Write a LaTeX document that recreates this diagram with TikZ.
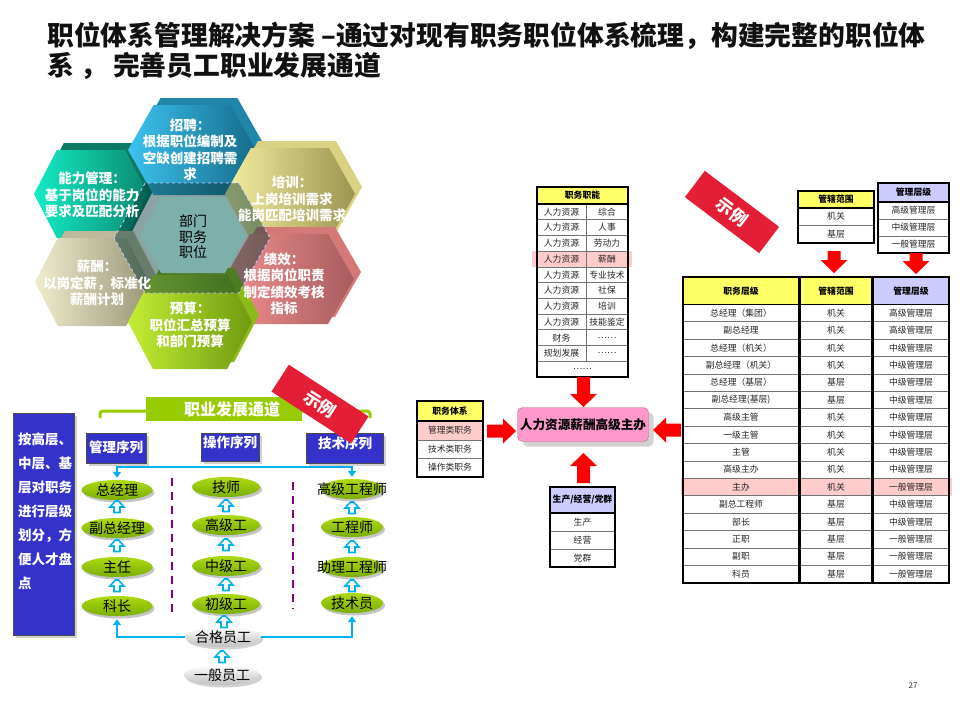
\documentclass[tikz,border=0pt]{standalone}
\usepackage{fontspec}
\setmainfont{Noto Sans CJK SC}
\usetikzlibrary{shapes.geometric,shadows,arrows.meta,calc}
\definecolor{ttl}{HTML}{111111}
\definecolor{bluebox}{HTML}{3333CC}
\definecolor{lime}{HTML}{99CC00}
\definecolor{cyanl}{HTML}{00B0F0}
\definecolor{purp}{HTML}{800080}
\definecolor{hdrY}{HTML}{FFFF66}
\definecolor{hdrL}{HTML}{CCCCFF}
\definecolor{pinkrow}{HTML}{FFCCCC}
\definecolor{cboxc}{HTML}{FF99CC}
\definecolor{stampc}{HTML}{E41E35}
\definecolor{arrred}{HTML}{FF0000}
\definecolor{ellT}{HTML}{AEDA14}
\definecolor{ellB}{HTML}{7AAE00}
\definecolor{zpL}{HTML}{3CC2F0}\definecolor{zpR}{HTML}{166C8A}\definecolor{zpS}{HTML}{1F86AA}
\definecolor{nlL}{HTML}{14ECC4}\definecolor{nlR}{HTML}{0A8A70}\definecolor{nlS}{HTML}{0C7A64}
\definecolor{pxL}{HTML}{F4F0A0}\definecolor{pxR}{HTML}{9C9452}\definecolor{pxS}{HTML}{D8D282}
\definecolor{xcL}{HTML}{F0ECCE}\definecolor{xcR}{HTML}{9A9878}\definecolor{xcS}{HTML}{BDB99A}
\definecolor{jxL}{HTML}{F29090}\definecolor{jxR}{HTML}{A85C5C}\definecolor{jxS}{HTML}{D47878}
\definecolor{ysL}{HTML}{C4EE34}\definecolor{ysR}{HTML}{6E9A10}\definecolor{ysS}{HTML}{8CBA18}
\definecolor{ctrC}{HTML}{7DB0AA}
\tikzset{
  hextext/.style={text=white, font=\bfseries\fontsize{13.5}{16.5}\selectfont, align=center, inner sep=0pt},
  bluehdr/.style={fill=bluebox, draw=black!70, line width=0.8pt, inner sep=0pt,
     drop shadow={shadow xshift=3pt, shadow yshift=-3pt, fill=black!35}},
  hdrtext/.style={text=white, font=\bfseries\fontsize{13.5}{15}\selectfont, inner sep=0pt},
  gell/.style={ellipse, inner sep=0pt, draw=none, top color=ellT, bottom color=ellB,
     drop shadow={shadow xshift=2pt, shadow yshift=-2.5pt, fill=black!45}},
  well/.style={ellipse, inner sep=0pt, draw=none, top color=white, bottom color=black!25,
     drop shadow={shadow xshift=2pt, shadow yshift=-2.5pt, fill=black!35}},
  etext/.style={font=\fontsize{14}{15}\selectfont, inner sep=0pt, text=black},
  hollowup/.style={draw=cyanl, fill=white, line width=1.6pt, line join=miter},
  cyconn/.style={draw=cyanl, line width=2pt},
  purpdash/.style={draw=purp, line width=2.5pt, dash pattern=on 8pt off 6pt},
  tc/.style={font=\fontsize{8.8}{10}\selectfont, text=black!85, inner sep=0pt},
  th/.style={font=\bfseries\fontsize{8.8}{10}\selectfont, text=black, inner sep=0pt},
  gridl/.style={draw=black!55, line width=0.8pt},
  outer/.style={draw=black, line width=2pt},
  redarr/.style={fill=arrred},
  stamp/.style={fill=stampc, text=white, font=\bfseries\fontsize{17}{18}\selectfont, inner sep=0pt},
}
\newcommand\HexPath[5]{\path[#5] (#1-#3,#2) -- (#1-0.6*#3,#2-#4) -- (#1+0.6*#3,#2-#4) -- (#1+#3,#2) -- (#1+0.6*#3,#2+#4) -- (#1-0.6*#3,#2+#4) -- cycle;}
\newcommand\HexBox[8]{% x y a h side left right
  \HexPath{#1}{#2}{#3}{#4}{fill=#5, shift={(7,-7)}}
  \HexPath{#1}{#2}{#3}{#4}{left color=#6, right color=#7}}
\newcommand\Ell[6]{\node[#5, minimum width=#4pt, minimum height=20pt] (#1) at (#2,#3) {};
  \node[etext] (#1t) at (#1) {#6};}
\newcommand\UpA[2]{\draw[hollowup] (#1-1.5,#2-6) -- (#1+1.5,#2-6) -- (#1+7,#2) -- (#1+3,#2) -- (#1+3,#2+5.5) -- (#1-3,#2+5.5) -- (#1-3,#2) -- (#1-7,#2) -- cycle;}
\newcommand\RDown[3]{\fill[redarr] (#1-6.5,#2) -- (#1+6.5,#2) -- (#1+6.5,#3-13) -- (#1+13.5,#3-13) -- (#1,#3) -- (#1-13.5,#3-13) -- (#1-6.5,#3-13) -- cycle;}
\newcommand\RUp[3]{\fill[redarr] (#1-6.5,#2) -- (#1+6.5,#2) -- (#1+6.5,#3+13) -- (#1+13.5,#3+13) -- (#1,#3) -- (#1-13.5,#3+13) -- (#1-6.5,#3+13) -- cycle;}
\newcommand\RRight[3]{\fill[redarr] (#2,#1-6.5) -- (#2,#1+6.5) -- (#3-13,#1+6.5) -- (#3-13,#1+12.5) -- (#3,#1) -- (#3-13,#1-12.5) -- (#3-13,#1-6.5) -- cycle;}
\newcommand\RLeft[3]{\fill[redarr] (#2,#1-6.5) -- (#2,#1+6.5) -- (#3+13,#1+6.5) -- (#3+13,#1+12.5) -- (#3,#1) -- (#3+13,#1-12.5) -- (#3+13,#1-6.5) -- cycle;}
\begin{document}
\begin{tikzpicture}[x=1pt,y=-1pt]
\useasboundingbox (0,0) rectangle (960,720);
\fill[white] (0,0) rectangle (960,720);
% ---------- title
\node[anchor=west, inner sep=0pt, text=ttl, font=\bfseries\fontsize{26.8}{30}\selectfont] (title1) at (47,36) {职位体系管理解决方案 –通过对现有职务职位体系梳理，构建完整的职位体};
\node[anchor=west, inner sep=0pt, text=ttl, font=\bfseries\fontsize{26.8}{30}\selectfont] (title2) at (47,66) {系 ， 完善员工职业发展通道};
\node[font=\fontsize{8}{9}\selectfont, text=black!80, inner sep=0pt] (pgnum) at (913,686) {27};
% ---------- hexagons
\HexBox{91}{194}{57}{44}{nlS}{nlL}{nlR}{}
\HexBox{192}{150}{64}{45}{zpS}{zpL}{zpR}{}
\HexBox{290}{194}{65}{46}{pxS}{pxL}{pxR}{}
\HexBox{92}{282}{57}{44}{xcS}{xcL}{xcR}{}
\HexBox{289}{279}{65}{45}{jxS}{jxL}{jxR}{}
\HexBox{190}{322}{62}{47}{ysS}{ysL}{ysR}{}
\HexPath{192}{238}{78}{55}{fill=black!60!teal, opacity=0.45}
\HexPath{193}{235}{53}{38}{fill=ctrC}
\HexPath{192}{238}{78}{55}{draw=white!80!blue, dashed, line width=0.8pt}
\node[hextext] (tzp) at (190,150) {招聘：\\根据职位编制及\\空缺创建招聘需\\求};
\node[hextext] (tnl) at (92,195) {能力管理：\\基于岗位的能力\\要求及匹配分析};
\node[hextext] (tpx) at (292,199) {培训：\\上岗培训需求\\能岗匹配培训需求};
\node[hextext] (tjx) at (284,284) {绩效：\\根据岗位职责\\制定绩效考核\\指标};
\node[hextext] (txc) at (97,283) {薪酬：\\以岗定薪，标准化\\薪酬计划};
\node[hextext] (tys) at (190,325) {预算：\\职位汇总预算\\和部门预算};
\node[font=\fontsize{14}{15.5}\selectfont, align=center, inner sep=0pt, text=black] (tctr) at (193,237) {部门\\职务\\职位};
% ---------- career channel
\node[fill=bluebox, draw=black!70, line width=0.8pt, minimum width=61pt, minimum height=222pt, anchor=north west, inner sep=0pt,
   drop shadow={shadow xshift=3pt, shadow yshift=-3pt, fill=black!35}] (lvbox) at (13,413) {};
\node[anchor=north west, align=left, inner sep=0pt, text=white, font=\bfseries\fontsize{13.5}{24}\selectfont] (lvtext) at (18,433) {按高层、\\中层、基\\层对职务\\进行层级\\划分，方\\便人才盘\\点};
\coordinate (brL) at (100,418); \coordinate (brR) at (370,418);
\draw[lime, line width=3pt, rounded corners=3pt] (brL) -- (100,411) -- (370,411) -- (brR);
\node[fill=lime, minimum width=156pt, minimum height=24pt, anchor=north west, inner sep=0pt] (brbox) at (146,397) {};
\node[text=white, font=\bfseries\fontsize{16}{17}\selectfont, inner sep=0pt] (brtext) at (232,409) {职业发展通道};
\node[bluehdr, minimum width=60pt, minimum height=30pt, anchor=north west] (h1) at (86,433) {};
\node[hdrtext] (h1t) at (116,447) {管理序列};
\node[bluehdr, minimum width=58pt, minimum height=28pt, anchor=north west] (h2) at (201,433) {};
\node[hdrtext] (h2t) at (230,442) {操作序列};
\node[bluehdr, minimum width=77pt, minimum height=30pt, anchor=north west] (h3) at (306,433) {};
\node[hdrtext] (h3t) at (345,443) {技术序列};
% ellipses
\Ell{gm1}{117}{490}{71}{gell}{总经理}
\Ell{gm2}{117}{528}{71}{gell}{副总经理}
\Ell{gm3}{117}{567}{71}{gell}{主任}
\Ell{km}{117}{606}{71}{gell}{科长}
\Ell{op1}{226}{487}{68}{gell}{技师}
\Ell{op2}{226}{525}{68}{gell}{高级工}
\Ell{op3}{226}{566}{68}{gell}{中级工}
\Ell{op4}{226}{604}{68}{gell}{初级工}
\Ell{se1}{352}{489}{62}{gell}{高级工程师}
\Ell{se2}{352}{527}{62}{gell}{工程师}
\Ell{se3}{352}{567}{62}{gell}{助理工程师}
\Ell{jsy}{352}{603}{62}{gell}{技术员}
\Ell{hg}{223}{637}{76}{well}{合格员工}
\Ell{yb}{222}{675}{76}{well}{一般员工}
\UpA{117}{507}\UpA{117}{546}\UpA{117}{586}
\UpA{226}{506}\UpA{226}{545}\UpA{226}{585}\UpA{224}{622}
\UpA{352}{508}\UpA{352}{547}\UpA{352}{586}
\UpA{222}{657}
\coordinate (tl) at (117,467); \coordinate (tr) at (352,467);
\draw[cyconn, {Triangle[length=6pt,width=8pt]}-{Triangle[length=6pt,width=8pt]}] ($(gm1.north)+(0,-2)$) -- (tl) -- (tr) -- ($(se1.north)+(0,-2)$);
\draw[cyconn, -{Triangle[length=6pt,width=8pt]}] (hg.west) -- (hg.west -| km.south) -- ($(km.south)+(0,3)$);
\draw[cyconn, -{Triangle[length=6pt,width=8pt]}] (hg.east) -- (hg.east -| jsy.south) -- ($(jsy.south)+(0,3)$);
\coordinate (pd1a) at (172,478); \coordinate (pd1b) at (172,613);
\coordinate (pd2a) at (293,482); \coordinate (pd2b) at (293,609);
\draw[purpdash] (pd1a) -- (pd1b);
\draw[purpdash] (pd2a) -- (pd2b);
% ---------- table 职务职能
\fill[pinkrow] (532,251.2) rectangle (632,266.9);
\fill[hdrY] (537,187) rectangle (628,204);
\node[th] (zn0) at (582.5,195.5) {职务职能};
\foreach \i/\a/\b in {1/人力资源/综合,2/人力资源/人事,3/人力资源/劳动力,4/人力资源/薪酬,5/人力资源/专业技术,6/人力资源/社保,7/人力资源/培训,8/人力资源/技能鉴定,9/财务/……,10/规划发展/……}{
  \pgfmathsetmacro\yy{204+15.73*(\i-0.5)}
  \node[tc] (zna\i) at (561.5,\yy) {\a};
  \node[tc] (znb\i) at (607,\yy) {\b};
}
\node[tc] (zn11) at (582.5,369) {……};
\foreach \i in {1,...,10}{\draw[gridl] (537,204+15.73*\i) -- (628,204+15.73*\i);}
\draw[gridl] (586,204) -- (586,361.3);
\draw[black, line width=1.2pt] (537,204) -- (628,204);
\draw[outer] (537,187) rectangle (628,377);
% ---------- table 职务体系
\fill[pinkrow] (417,421) rectangle (483,440);
\fill[hdrY] (417,401) rectangle (483,421);
\node[th] (zt0) at (450,411) {职务体系};
\node[tc] (zt1) at (450,430.5) {管理类职务};
\node[tc] (zt2) at (450,449) {技术类职务};
\node[tc] (zt3) at (450,467.5) {操作类职务};
\draw[gridl] (417,440) -- (483,440); \draw[gridl] (417,458) -- (483,458);
\draw[black, line width=1.2pt] (417,421) -- (483,421);
\draw[outer] (417,401) rectangle (483,477);
% ---------- table 生产
\fill[hdrL] (550,487) rectangle (615,513);
\node[th] (sc0) at (582.5,500) {生产/经营/党群};
\node[tc] (sc1) at (582.5,522) {生产};
\node[tc] (sc2) at (582.5,540) {经营};
\node[tc] (sc3) at (582.5,558) {党群};
\draw[gridl] (550,531) -- (615,531); \draw[gridl] (550,549) -- (615,549);
\draw[black, line width=1.2pt] (550,513) -- (615,513);
\draw[outer] (550,487) rectangle (615,567);
% ---------- central box and arrows
\node[fill=cboxc, draw=black!30!cboxc, rounded corners=5pt, minimum width=131pt, minimum height=34pt, inner sep=0pt,
   font=\bfseries\fontsize{12.6}{14}\selectfont, drop shadow={shadow xshift=5pt, shadow yshift=-5pt, fill=black!35}] (cb) at (583,424.5) {人力资源薪酬高级主办};
\RDown{583.5}{377}{407}
\RUp{583.5}{483}{453}
\RRight{431}{487}{516}
\RLeft{430}{681}{653}
% ---------- small tables top right
\fill[hdrY] (798,191) rectangle (874,208);
\node[th] (gx0) at (836,199.5) {管辖范围};
\node[tc] (gx1) at (836,216.5) {机关};
\node[tc] (gx2) at (836,234) {基层};
\draw[gridl] (798,225) -- (874,225);
\draw[black, line width=1.2pt] (798,208) -- (874,208);
\draw[outer] (798,191) rectangle (874,243);
\fill[hdrL] (878,183) rectangle (949,202);
\node[th] (gl0) at (913.5,192.5) {管理层级};
\node[tc] (gl1) at (913.5,210.5) {高级管理层};
\node[tc] (gl2) at (913.5,227.5) {中级管理层};
\node[tc] (gl3) at (913.5,244.5) {一般管理层};
\draw[gridl] (878,219) -- (949,219); \draw[gridl] (878,236) -- (949,236);
\draw[black, line width=1.2pt] (878,202) -- (949,202);
\draw[outer] (878,183) rectangle (949,253);
\RDown{834}{251}{273}
\RDown{916}{253}{274}
% ---------- main table
\fill[pinkrow] (681,478.3) rectangle (952,495.7);
\fill[hdrY] (683,277) rectangle (872,304.3);
\fill[hdrL] (873,277) rectangle (949,304.3);
\node[th] (mh1) at (741,291) {职务层级};
\node[th] (mh2) at (836,291) {管辖范围};
\node[th] (mh3) at (911,291) {管理层级};
\foreach \i/\a/\b/\c in {1/总经理（集团）/机关/高级管理层,2/副总经理/机关/高级管理层,3/总经理（机关）/机关/中级管理层,4/副总经理（机关）/机关/中级管理层,5/总经理（基层）/基层/中级管理层,6/副总经理(基层)/基层/中级管理层,7/高级主管/机关/中级管理层,8/一级主管/机关/中级管理层,9/主管/机关/中级管理层,10/高级主办/机关/中级管理层,11/主办/机关/一般管理层,12/副总工程师/基层/中级管理层,13/部长/基层/中级管理层,14/正职/基层/一般管理层,15/副职/基层/一般管理层,16/科员/基层/一般管理层}{
  \pgfmathsetmacro\yy{304.3+17.4*(\i-0.5)}
  \node[tc] (mta\i) at (741,\yy) {\a};
  \node[tc] (mtb\i) at (836,\yy) {\b};
  \node[tc] (mtc\i) at (911,\yy) {\c};
}
\foreach \i in {1,...,15}{\draw[gridl] (683,304.3+17.4*\i) -- (949,304.3+17.4*\i);}
\draw[black, line width=1.5pt] (683,304.3) -- (949,304.3);
\draw[black, line width=3pt] (799.5,277) -- (799.5,583);
\draw[black, line width=3pt] (872.5,277) -- (872.5,583);
\draw[outer] (683,277) rectangle (949,583);
% ---------- stamps
\node[stamp, rotate=-33, minimum width=95pt, minimum height=32pt] (st1) at (320,404) {示例};
\node[stamp, rotate=-37, minimum width=93pt, minimum height=33pt] (st2) at (732,212) {示例};
\end{tikzpicture}
\end{document}
